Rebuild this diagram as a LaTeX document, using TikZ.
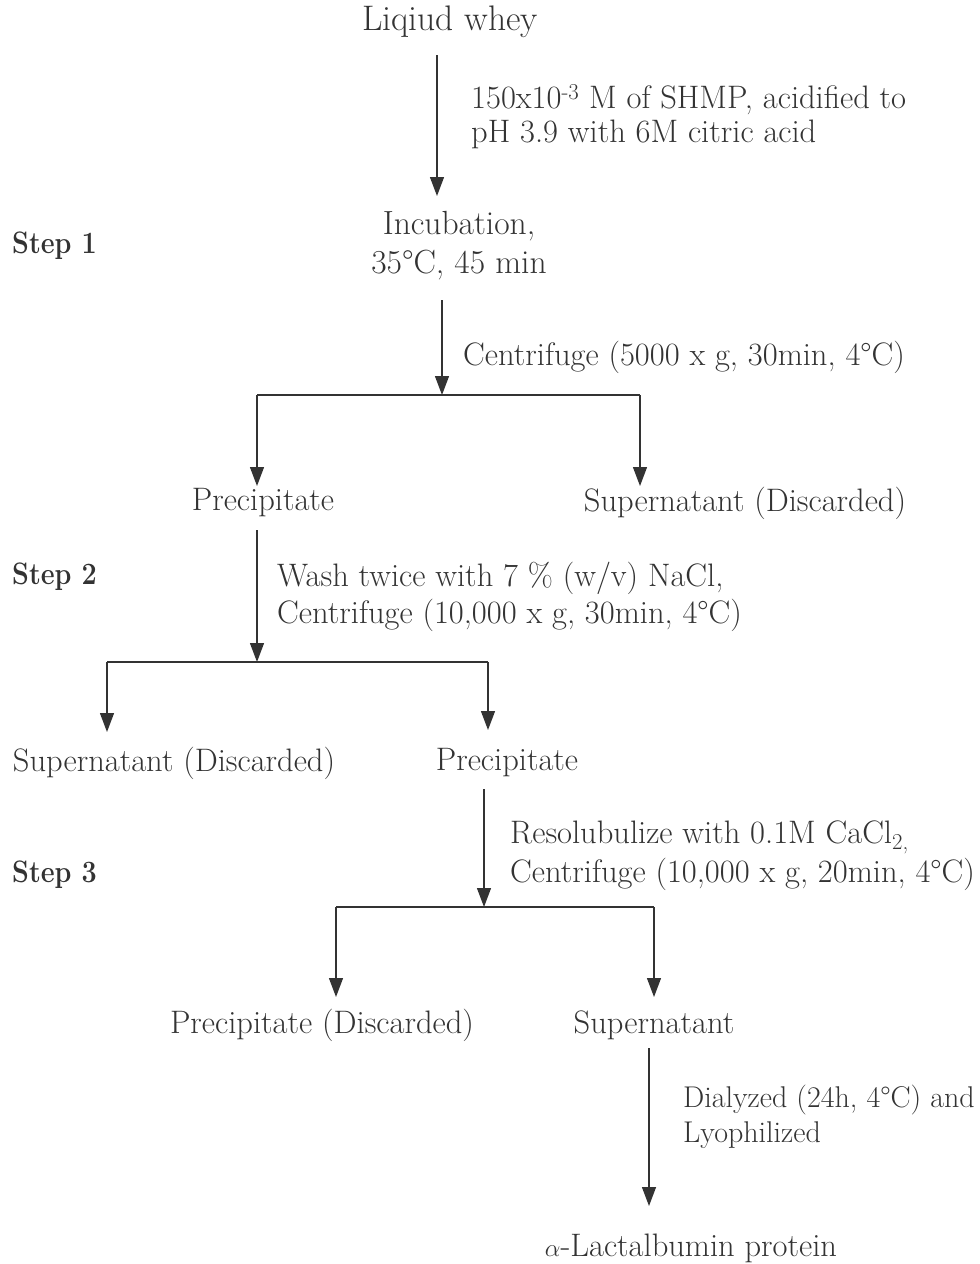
\documentclass[tikz,border=0pt]{standalone}
\usepackage{fontspec}
\usetikzlibrary{arrows.meta}
\definecolor{ink}{HTML}{333333}
\newcommand{\steptext}[1]{\scalebox{0.87}[1]{#1}}
\tikzset{
  lbl/.style={inner sep=0pt, text=ink, font=\fontsize{32.5}{37}\selectfont},
  multi/.style={lbl, align=left},
  steplbl/.style={lbl, anchor=west, font=\fontsize{31}{37}\selectfont\bfseries},
  ln/.style={draw=ink, line width=1.3pt},
  arr/.style={ln, -{Triangle[length=19pt,width=14pt]}},
}
\begin{document}
\begin{tikzpicture}[x=1pt,y=-1pt]
\useasboundingbox (0,0) rectangle (980,1264);
% nodes
\node[lbl, font=\fontsize{35.5}{40}\selectfont] (whey) at (450,22) {Liqiud whey};
\node[multi, anchor=west, font=\fontsize{32.5}{34}\selectfont] (lab1) at (471,116.5) {150x10\textsuperscript{-3} M of SHMP, acidified to\\pH 3.9 with 6M citric acid};
\node[lbl, align=center, font=\fontsize{33.5}{39}\selectfont] (incub) at (459,246) {Incubation,\\35°C, 45 min};
\node[steplbl] (step1) at (12,246) {\steptext{Step 1}};
\node[lbl, anchor=west] (lab2) at (463,357) {Centrifuge (5000 x g, 30min, 4°C)};
\node[lbl] (prec1) at (263,503) {Precipitate};
\node[lbl] (sup1) at (745,503) {Supernatant (Discarded)};
\node[steplbl] (step2) at (12,577) {\steptext{Step 2}};
\node[multi, anchor=west] (lab3) at (277,596.5) {Wash twice with 7 \% (w/v) NaCl,\\Centrifuge (10,000 x g, 30min, 4°C)};
\node[lbl] (sup2) at (174,763) {Supernatant (Discarded)};
\node[lbl] (prec2) at (507,763) {Precipitate};
\node[multi, anchor=west, font=\fontsize{32.5}{39}\selectfont] (lab4) at (510,855.5) {Resolubulize with 0.1M CaCl\textsubscript{2,}\\Centrifuge (10,000 x g, 20min, 4°C)};
\node[steplbl] (step3) at (12,875) {\steptext{Step 3}};
\node[lbl] (prec3) at (322,1025) {Precipitate (Discarded)};
\node[lbl] (sup3) at (654,1025) {Supernatant};
\node[multi, anchor=west, font=\fontsize{30}{35}\selectfont] (lab5) at (683,1116.5) {Dialyzed (24h, 4°C) and\\Lyophilized};
\node[lbl] (final) at (691,1248) {$\alpha$-Lactalbumin protein};
% connector coordinates
\coordinate (a1s) at (437,55);   \coordinate (a1e) at (437,196);
\coordinate (a2s) at (442,300);  \coordinate (b1) at (442,395);
\coordinate (b1l) at (257,395);  \coordinate (b1r) at (640,395);
\coordinate (a5s) at (257,530);  \coordinate (b2) at (257,662);
\coordinate (b2l) at (107,662);  \coordinate (b2r) at (488,662);
\coordinate (a8s) at (484,789);  \coordinate (b3) at (484,907);
\coordinate (b3l) at (336,907);  \coordinate (b3r) at (654,907);
\coordinate (a11s) at (649,1048); \coordinate (a11e) at (649,1206);
% connectors
\draw[arr] (a1s) -- (a1e);
\draw[ln] (b1l) -- (b1r);
\draw[arr] (a2s) -- (b1);
\draw[arr] (b1l) -- (b1l |- 0,486);
\draw[arr] (b1r) -- (b1r |- 0,486);
\draw[ln] (b2l) -- (b2r);
\draw[arr] (a5s) -- (b2);
\draw[arr] (b2l) -- (b2l |- 0,732);
\draw[arr] (b2r) -- (b2r |- 0,730);
\draw[ln] (b3l) -- (b3r);
\draw[arr] (a8s) -- (b3);
\draw[arr] (b3l) -- (b3l |- 0,997);
\draw[arr] (b3r) -- (b3r |- 0,997);
\draw[arr] (a11s) -- (a11e);
\end{tikzpicture}
\end{document}
